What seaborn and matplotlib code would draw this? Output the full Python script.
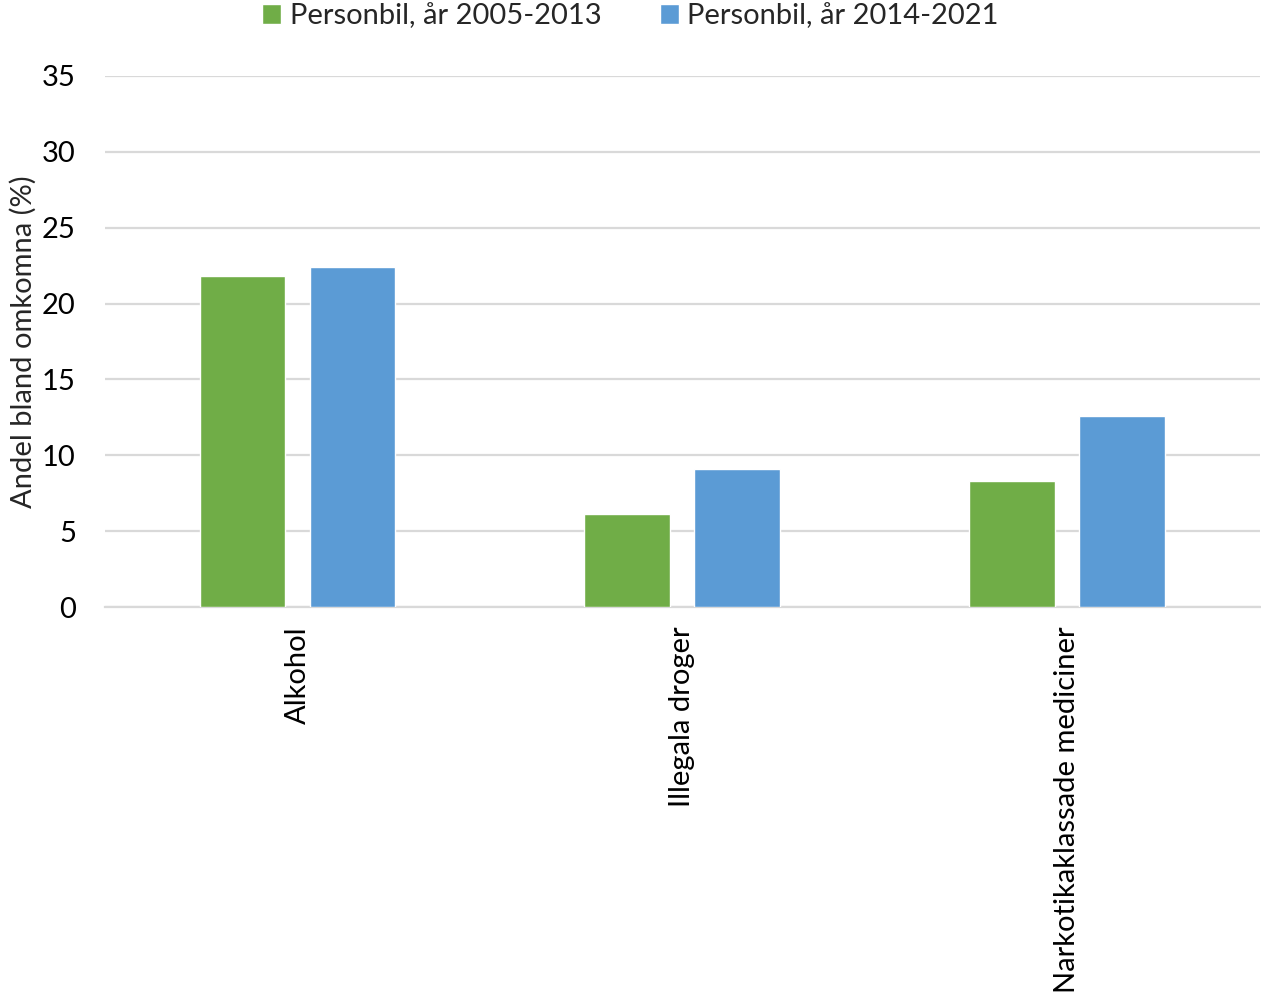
import pandas as pd
import matplotlib
matplotlib.use("Agg")
import matplotlib.pyplot as plt
import seaborn as sns

# --- DATA ---
kategorier = ['Alkohol', 'Illegala droger', 'Narkotikaklassade mediciner']
serier = ['Personbil, år 2005-2013', 'Personbil, år 2014-2021']
andel_2005_2013 = [21.8, 6.1, 8.3]
andel_2014_2021 = [22.4, 9.1, 12.6]
y_ticks = [0, 5, 10, 15, 20, 25, 30, 35]

FARGER = ['#70AD47', '#5B9BD5']


def rita():
    df = pd.DataFrame({
        'kategori': kategorier * 2,
        'serie': [serier[0]] * 3 + [serier[1]] * 3,
        'andel': andel_2005_2013 + andel_2014_2021,
    })

    sns.set_theme(style="white")
    plt.rcParams['font.family'] = ['Lato', 'DejaVu Sans']

    fig = plt.figure(figsize=(12.61, 10.05), dpi=100)
    ax = fig.add_axes([0.0833, 0.396, 0.9157, 0.5284])

    sns.barplot(data=df, x='kategori', y='andel', hue='serie',
                palette=FARGER, width=0.572, gap=0.22, saturation=1,
                ax=ax, zorder=3)

    ax.set_xlim(-0.5, 2.5)
    ax.set_ylim(0, 35)
    ax.set_yticks(y_ticks)
    ax.set_yticklabels([str(t) for t in y_ticks])
    ax.grid(axis='y', color='#d9d9d9', linewidth=1.6, zorder=0)
    ax.set_axisbelow(True)
    for s in ['top', 'right', 'left']:
        ax.spines[s].set_visible(False)
    ax.spines['bottom'].set_color('#d9d9d9')
    ax.spines['bottom'].set_linewidth(1.6)
    ax.tick_params(axis='both', length=0, labelsize=21, colors='black')
    ax.tick_params(axis='x', pad=14)
    ax.tick_params(axis='y', pad=21)
    plt.setp(ax.get_xticklabels(), rotation=90, ha='center', va='top')

    ax.set_xlabel('')
    ax.set_ylabel('Andel bland omkomna (%)', fontsize=21, labelpad=4)

    ax.get_legend().remove()
    handles, labels = ax.get_legend_handles_labels()
    fig.legend(handles, labels, loc='center', bbox_to_anchor=(0.5, 0.984),
               ncol=2, frameon=False, fontsize=21, handlelength=0.65,
               handleheight=0.65, handletextpad=0.3, columnspacing=2.0)

    fig.savefig('out.png', dpi=100)
    plt.close(fig)


if __name__ == "__main__":
    rita()
